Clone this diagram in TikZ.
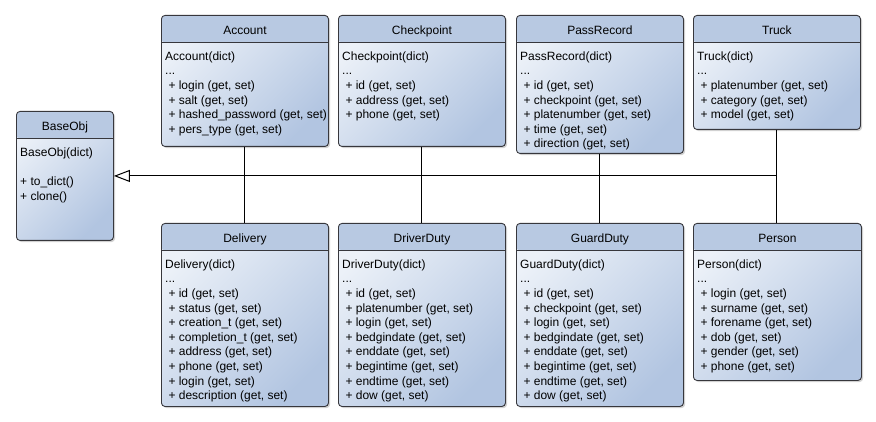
\documentclass[tikz,border=0pt]{standalone}
\usepackage{fontspec}
\setmainfont{Liberation Sans}
\usepackage{tikz}
\usetikzlibrary{arrows.meta}
\usetikzlibrary{shadows}
\definecolor{clshead}{RGB}{184,201,226}
\definecolor{clslight}{RGB}{236,241,248}
\definecolor{clsdark}{RGB}{178,197,225}
\definecolor{clsborder}{RGB}{55,55,60}
\tikzset{
  cls/.style={draw=clsborder, line width=0.9pt, rounded corners=3.5pt, anchor=north west, inner sep=0pt,
    top color=clslight, bottom color=clsdark, shading angle=45,
    drop shadow={shadow xshift=1.6pt, shadow yshift=-1.6pt, opacity=0.3, fill=black!60},
    path picture={\fill[clshead] (path picture bounding box.north west) rectangle ([yshift=-27pt]path picture bounding box.north east);}},
  clstitle/.style={anchor=base, inner sep=0pt, font=\fontsize{12}{14.6}\selectfont},
  clsline/.style={draw=clsborder, line width=0.9pt},
  clsbody/.style={anchor=north west, inner sep=0pt, align=left, font=\fontsize{12}{14.6}\selectfont},
  inherit/.style={line width=1pt, -{Triangle[open, length=16pt, width=12pt]}},
  link/.style={line width=1pt}
}
\newcommand{\umlclass}[6]{%
  \node[cls, minimum width=#3, minimum height=#4] (#1) at (#2) {};
  \node[clstitle] at ([yshift=-20pt]#1.north) {#5};
  \draw[clsline] ([yshift=-27pt]#1.north west) -- ([yshift=-27pt]#1.north east);
  \node[clsbody] at ([xshift=4pt,yshift=-36.5pt]#1.north west) {#6};
}
\newcommand{\mem}[1]{\hspace*{3.3pt}+ #1 (get, set)}

\begin{document}
\begin{tikzpicture}[x=1pt,y=-1pt]
            \useasboundingbox (0,0) rectangle (876,422);
            \umlclass{BaseObj}{16,111}{97pt}{129pt}{BaseObj}{BaseObj(dict)\\ \mbox{}\\ + to\_dict()\\ + clone()}
            \umlclass{Account}{161,15}{167pt}{131pt}{Account}{Account(dict)\\ ...\\ \mem{login}\\ \mem{salt}\\ \mem{hashed\_password}\\ \mem{pers\_type}}
            \umlclass{Checkpoint}{338,15}{167pt}{131pt}{Checkpoint}{Checkpoint(dict)\\ ...\\ \mem{id}\\ \mem{address}\\ \mem{phone}}
            \umlclass{PassRecord}{516,15}{167pt}{138pt}{PassRecord}{PassRecord(dict)\\ ...\\ \mem{id}\\ \mem{checkpoint}\\ \mem{platenumber}\\ \mem{time}\\ \mem{direction}}
            \umlclass{Truck}{693,15}{167pt}{114pt}{Truck}{Truck(dict)\\ ...\\ \mem{platenumber}\\ \mem{category}\\ \mem{model}}
            \umlclass{Delivery}{161,223}{167pt}{183pt}{Delivery}{Delivery(dict)\\ ...\\ \mem{id}\\ \mem{status}\\ \mem{creation\_t}\\ \mem{completion\_t}\\ \mem{address}\\ \mem{phone}\\ \mem{login}\\ \mem{description}}
            \umlclass{DriverDuty}{338,223}{167pt}{183pt}{DriverDuty}{DriverDuty(dict)\\ ...\\ \mem{id}\\ \mem{platenumber}\\ \mem{login}\\ \mem{bedgindate}\\ \mem{enddate}\\ \mem{begintime}\\ \mem{endtime}\\ \mem{dow}}
            \umlclass{GuardDuty}{516,223}{167pt}{183pt}{GuardDuty}{GuardDuty(dict)\\ ...\\ \mem{id}\\ \mem{checkpoint}\\ \mem{login}\\ \mem{bedgindate}\\ \mem{enddate}\\ \mem{begintime}\\ \mem{endtime}\\ \mem{dow}}
            \umlclass{Person}{693,223}{168pt}{157pt}{Person}{Person(dict)\\ ...\\ \mem{login}\\ \mem{surname}\\ \mem{forename}\\ \mem{dob}\\ \mem{gender}\\ \mem{phone}}
            \draw[inherit] (Truck.south |- BaseObj.east) -- (BaseObj.east);
            \draw[link] (Account) -- (Delivery);
            \draw[link] (Checkpoint) -- (DriverDuty);
            \draw[link] (PassRecord) -- (GuardDuty);
            \draw[link] (Truck.south) -- (Truck.south |- Person.north);
\end{tikzpicture}
\end{document}
